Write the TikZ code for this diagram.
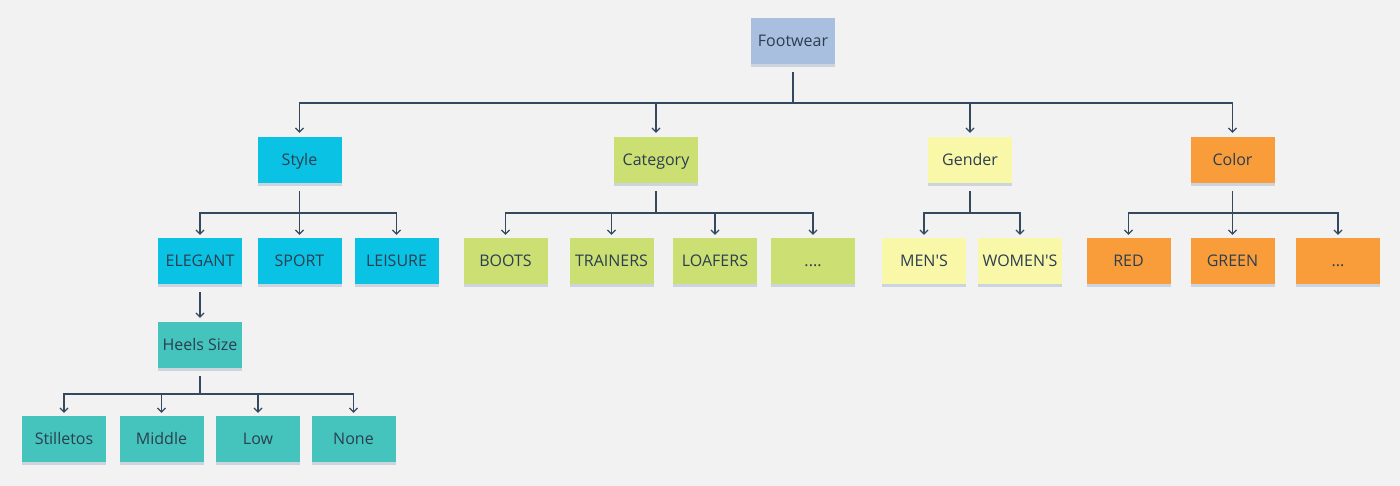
\documentclass[tikz,border=0pt]{standalone}
\usepackage{fontspec}
\setmainfont{Open Sans}
\usetikzlibrary{arrows.meta,shadows}
\definecolor{bg}{HTML}{F2F2F2}
\definecolor{ink}{HTML}{2C3E50}
\definecolor{line}{HTML}{34495E}
\definecolor{cTop}{HTML}{A9BFE0}
\definecolor{cCyan}{HTML}{0AC2E4}
\definecolor{cTeal}{HTML}{45C4BD}
\definecolor{cLime}{HTML}{CBDF72}
\definecolor{cYel}{HTML}{F9F7A8}
\definecolor{cOra}{HTML}{F99D3A}
\definecolor{shad}{HTML}{9FB0C8}
\tikzset{
  box/.style={minimum width=84pt, minimum height=46pt, inner sep=0pt, text=ink,
    font=\fontsize{16}{19}\selectfont, text height=13pt, text depth=2pt,
    drop shadow={shadow xshift=0pt, shadow yshift=-3pt, opacity=0.45, fill=shad}},
  conn/.style={draw=line, line width=1.3pt, -{Straight Barb[length=4pt,width=8pt,line width=1.2pt]}},
  plain/.style={draw=line, line width=1.3pt},
}
\begin{document}
\begin{tikzpicture}[x=1pt,y=-1pt]
\fill[bg] (0,0) rectangle (1400,486);
\useasboundingbox (0,0) rectangle (1400,486);
% nodes
\node[box,fill=cTop] (fw) at (793,41) {Footwear};
\node[box,fill=cCyan] (st) at (299.5,160) {Style};
\node[box,fill=cLime] (ca) at (656,160) {Category};
\node[box,fill=cYel] (ge) at (970,160) {Gender};
\node[box,fill=cOra] (co) at (1232.5,160) {Color};
\node[box,fill=cCyan] (el) at (200,261) {ELEGANT};
\node[box,fill=cCyan] (sp) at (299.5,261) {SPORT};
\node[box,fill=cCyan] (le) at (396.5,261) {LEISURE};
\node[box,fill=cLime] (bo) at (505.5,261) {BOOTS};
\node[box,fill=cLime] (tr) at (611.5,261) {TRAINERS};
\node[box,fill=cLime] (lo) at (715,261) {LOAFERS};
\node[box,fill=cLime] (cd) at (813,261) {....};
\node[box,fill=cYel] (me) at (924,261) {MEN\textquotesingle S};
\node[box,fill=cYel] (wo) at (1020,261) {WOMEN\textquotesingle S};
\node[box,fill=cOra] (re) at (1128.5,261) {RED};
\node[box,fill=cOra] (gr) at (1232.5,261) {GREEN};
\node[box,fill=cOra] (od) at (1338,261) {...};
\node[box,fill=cTeal] (hs) at (200,345) {Heels Size};
\node[box,fill=cTeal] (s1) at (64,439) {Stilletos};
\node[box,fill=cTeal] (s2) at (161.5,439) {Middle};
\node[box,fill=cTeal] (s3) at (258,439) {Low};
\node[box,fill=cTeal] (s4) at (353.5,439) {None};
% bus coordinates
\coordinate (bfw) at (793,103);
\coordinate (bst) at (299.5,213);
\coordinate (bca) at (656,213);
\coordinate (bge) at (970,213);
\coordinate (bco) at (1232.5,213);
\coordinate (bhs) at (200,394);
% connectors
\draw[plain] ([yshift=-8pt]fw.south) -- (bfw);
\foreach \c in {st,ca,ge,co}{\draw[conn] (bfw) -| ([yshift=4pt]\c.north);}
\draw[plain] ([yshift=-8pt]st.south) -- (bst);
\foreach \c in {el,sp,le}{\draw[conn] (bst) -| ([yshift=3pt]\c.north);}
\draw[plain] ([yshift=-8pt]ca.south) -- (bca);
\foreach \c in {bo,tr,lo,cd}{\draw[conn] (bca) -| ([yshift=3pt]\c.north);}
\draw[plain] ([yshift=-8pt]ge.south) -- (bge);
\foreach \c in {me,wo}{\draw[conn] (bge) -| ([yshift=3pt]\c.north);}
\draw[plain] ([yshift=-8pt]co.south) -- (bco);
\foreach \c in {re,gr,od}{\draw[conn] (bco) -| ([yshift=3pt]\c.north);}
\draw[conn] ([yshift=-8pt]el.south) -- ([yshift=4pt]hs.north);
\draw[plain] ([yshift=-8pt]hs.south) -- (bhs);
\foreach \c in {s1,s2,s3,s4}{\draw[conn] (bhs) -| ([yshift=3pt]\c.north);}
\end{tikzpicture}
\end{document}
